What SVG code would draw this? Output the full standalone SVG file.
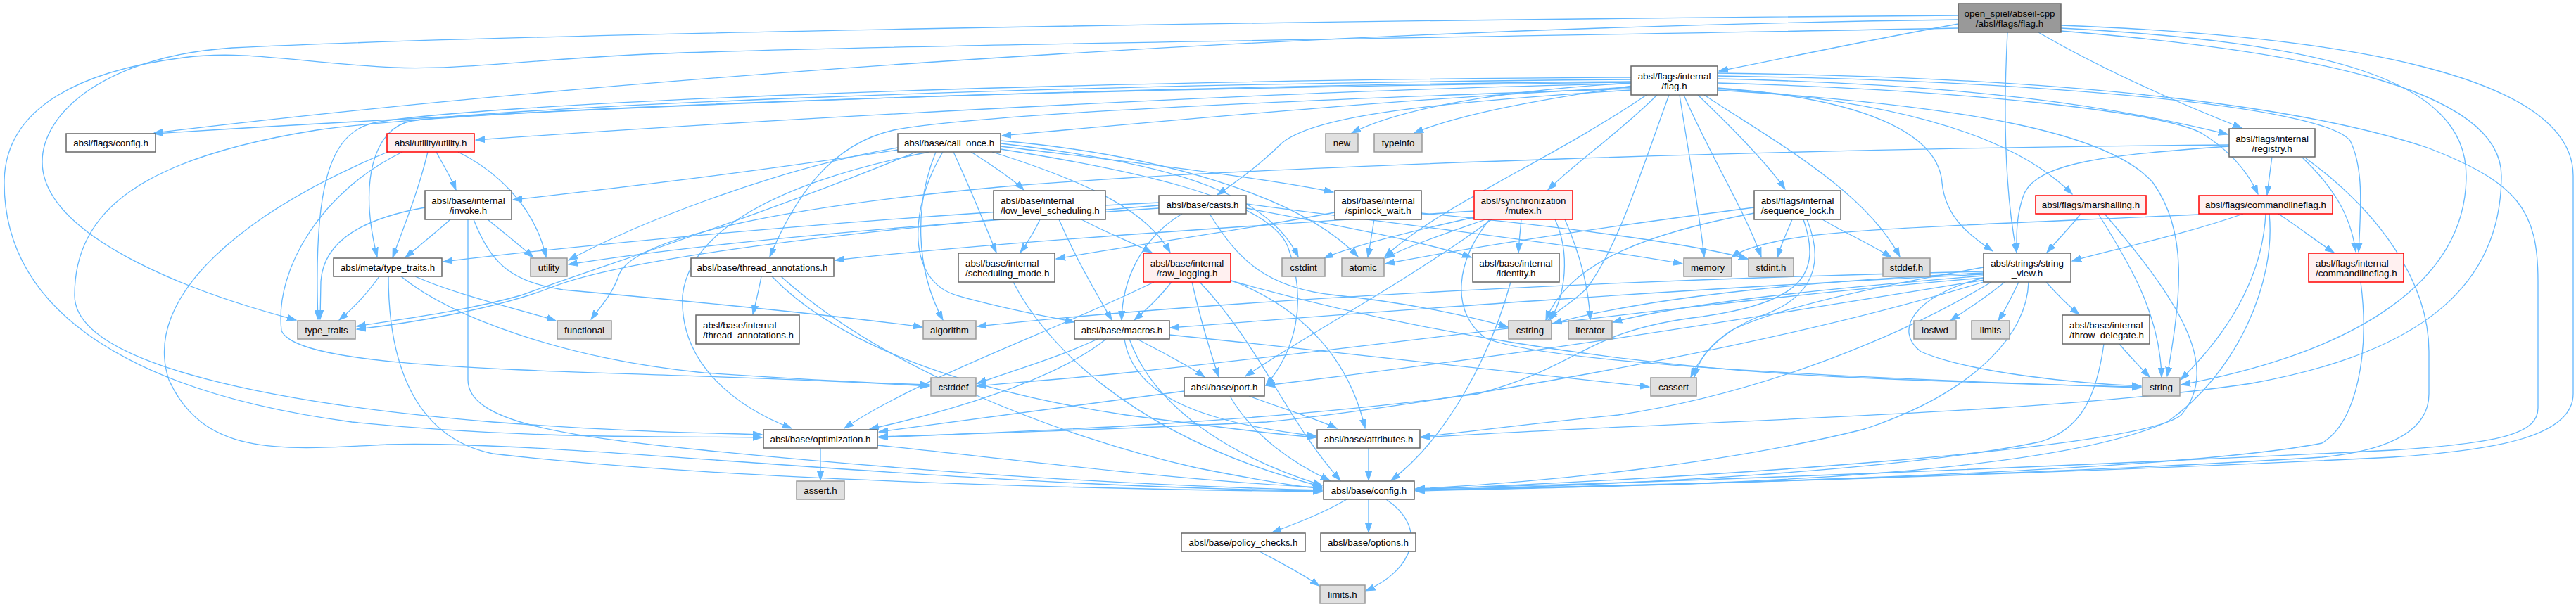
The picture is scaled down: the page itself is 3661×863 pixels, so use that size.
<svg xmlns="http://www.w3.org/2000/svg" width="3661" height="863" viewBox="0 0 3661 863">
<defs>
<style>
.e path{fill:none;stroke:#63b8ff;stroke-width:1.3;marker-end:url(#a)}
.n rect{fill:#fff;stroke:#666;stroke-width:1.5}
.n.g rect{fill:#e0e0e0;stroke:#999}
.n.r rect{fill:#fff0f0;stroke:#f00}
.n.t rect{fill:#999;stroke:#666}
text{font-family:"Liberation Sans",Arial,Helvetica,sans-serif;font-size:13.33px;fill:#000}
.c{text-anchor:middle}
</style>
<marker id="a" markerUnits="userSpaceOnUse" markerWidth="14" markerHeight="10" refX="13" refY="5" orient="auto"><path d="M0,0.5 L13,5 L0,9.5z" fill="#63b8ff" stroke="#63b8ff" stroke-width="1"/></marker>
</defs>
<rect width="3661" height="863" fill="#fff"/>
<g id="edges" class="e">
<!-- root -->
<path d="M2783,34 C2650,58 2540,82 2443,101"/>
<path d="M2897,46 C2990,100 3100,148 3186,182"/>
<path d="M2853,46 C2847,160 2849,270 2866,359"/>
<path d="M2783,28 C2000,38 1000,95 219,189"/>
<path d="M2783,22 C1700,30 700,50 330,68 C150,80 60,160 60,230 C60,330 250,410 421,455"/>
<path d="M2783,40 C2000,55 1200,65 920,77 C750,85 650,100 560,96 C430,90 350,70 260,82 C120,100 6,150 6,260 C6,450 200,560 500,600 C750,625 950,620 1083,622"/>
<path d="M2929,44 C3250,70 3555,120 3555,250 C3555,400 3450,500 3200,545 C2900,590 2400,598 2020,622"/>
<path d="M2929,40 C3300,60 3505,110 3505,250 C3505,400 3350,500 3100,547"/>
<path d="M2929,36 C3300,50 3657,100 3657,250 L3657,560 C3657,620 3550,640 3400,650 C3000,670 2400,690 2012,697"/>
<!-- internal/flag.h -->
<path d="M2318,116 C1800,120 1000,140 219,190"/>
<path d="M2318,119 C1800,128 1000,176 676,199"/>
<path d="M2318,110 C1400,115 650,150 530,175 C470,190 445,260 452,454"/>
<path d="M2318,113 C1400,120 700,155 585,172 C530,182 510,260 536,365"/>
<path d="M2318,117 C1600,125 700,150 450,185 C200,225 106,300 106,420 C106,520 400,575 700,600 C900,615 1000,615 1083,618"/>
<path d="M2318,118 C2150,128 2000,150 1921,189"/>
<path d="M2320,122 C2200,140 2080,160 2010,189"/>
<path d="M2318,124 C2000,140 1700,168 1424,193"/>
<path d="M2318,128 C2000,148 1860,168 1820,205 C1790,235 1755,260 1730,277"/>
<path d="M2318,126 C1900,140 1400,160 1270,185 C1180,205 1130,280 1094,365"/>
<path d="M2355,135 C2300,190 2240,230 2200,270"/>
<path d="M2340,135 C2200,230 2050,290 1968,365"/>
<path d="M2372,135 C2330,250 2300,350 2255,410 C2235,430 2215,440 2200,455"/>
<path d="M2387,135 C2400,220 2415,300 2422,365"/>
<path d="M2393,135 C2430,220 2480,300 2503,365"/>
<path d="M2413,135 C2460,180 2510,230 2537,269"/>
<path d="M2422,135 C2520,200 2650,270 2700,365"/>
<path d="M2441,125 C2650,140 2755,190 2760,260 C2765,310 2800,335 2832,357"/>
<path d="M2441,126 C2650,140 2850,180 2945,276"/>
<path d="M2441,118 C2800,128 3080,160 3130,190 C3170,215 3195,245 3209,276"/>
<path d="M2441,112 C2800,120 3000,150 3166,191"/>
<path d="M2441,108 C2900,115 3300,150 3340,200 C3360,240 3355,300 3352,358"/>
<path d="M2441,104 C3000,110 3300,160 3450,210 C3580,260 3607,300 3607,400 L3607,580 C3607,615 3560,630 3400,640 C3000,660 2400,685 2012,695"/>
<path d="M2441,128 C2800,150 3000,190 3060,260 C3110,330 3100,420 3080,535"/>
<!-- registry -->
<path d="M3168,206 C2600,210 1800,235 1430,265 C1100,295 900,340 880,390 C870,420 850,440 840,454"/>
<path d="M3168,208 C3000,220 2890,230 2875,280 C2865,310 2866,335 2866,358"/>
<path d="M3229,223 C3226,245 3224,260 3222,277"/>
<path d="M3272,224 C3310,260 3340,300 3348,358"/>
<path d="M3277,225 C3380,300 3452,400 3452,500 L3452,560 C3452,610 3400,640 3300,650 C2950,672 2400,690 2012,696"/>
<!-- commandlineflag -->
<path d="M3125,305 C2800,320 2620,325 2540,340 C2500,348 2475,355 2461,366"/>
<path d="M3188,304 C3100,335 3000,355 2945,371"/>
<path d="M3238,304 C3270,325 3295,345 3317,359"/>
<path d="M3220,304 C3215,400 3160,480 3099,540"/>
<path d="M3225,304 C3235,400 3180,530 3080,600 C2900,680 2400,690 2012,698"/>
<!-- marshalling -->
<path d="M2957,304 C2945,320 2925,340 2909,359"/>
<path d="M2982,304 C3030,380 3070,450 3072,536"/>
<path d="M2991,304 C3090,420 3160,520 3100,590 C3040,640 2400,680 2012,696"/>
<!-- internal commandlineflag -->
<path d="M3355,401 C3368,500 3350,600 3300,630 C3100,670 2400,690 2012,697"/>
<!-- utility.h -->
<path d="M620,216 C630,235 640,250 648,270"/>
<path d="M608,216 C595,270 575,320 558,366"/>
<path d="M651,216 C700,240 760,290 776,366"/>
<path d="M572,216 C460,270 390,380 400,470 C420,520 700,525 1000,535 C1150,540 1250,545 1321,549"/>
<path d="M551,216 C350,300 200,420 240,540 C290,650 400,640 550,632 C800,625 1300,690 1879,698"/>
<!-- invoke -->
<path d="M640,312 C620,330 595,350 576,366"/>
<path d="M693,312 C715,330 740,350 758,366"/>
<path d="M604,295 C520,310 460,340 456,400 L455,454"/>
<path d="M665,312 L665,540 C665,600 800,620 1000,640 C1300,670 1600,690 1879,697"/>
<path d="M673,312 C700,380 730,400 800,412 C1000,430 1200,450 1311,465"/>
<!-- meta/type_traits -->
<path d="M539,393 C520,420 500,440 482,455"/>
<path d="M590,393 C650,420 740,440 790,456"/>
<path d="M570,393 C640,450 800,510 1000,530 C1150,540 1250,545 1321,547"/>
<path d="M552,393 C552,500 580,620 700,645 C1000,680 1500,695 1879,699"/>
<!-- call_once -->
<path d="M1276,210 C1100,240 900,320 808,370"/>
<path d="M1276,213 C1100,240 900,265 729,284"/>
<path d="M1302,216 C1100,300 850,380 740,420 C650,445 560,455 507,464"/>
<path d="M1330,216 C1300,290 1300,380 1340,455"/>
<path d="M1340,216 C1290,300 1290,400 1360,420 C1430,440 1490,450 1527,458"/>
<path d="M1320,216 C1100,260 980,330 970,420 C965,520 1050,580 1125,609"/>
<path d="M1422,212 C1600,240 1800,280 1830,350 C1860,430 1840,500 1799,548"/>
<path d="M1422,200 C1650,220 1850,280 1930,365"/>
<path d="M1422,204 C1650,230 1800,270 1845,365"/>
<path d="M1422,208 C1600,230 1780,250 1895,273"/>
<path d="M1380,216 C1410,235 1440,255 1455,270"/>
<path d="M1410,216 C1550,260 1630,300 1663,359"/>
<path d="M1355,216 C1380,270 1400,320 1416,359"/>
<!-- low_level_scheduling -->
<path d="M1478,312 C1470,330 1460,345 1450,359"/>
<path d="M1537,312 C1570,330 1610,345 1637,359"/>
<path d="M1505,312 C1530,370 1560,420 1580,455"/>
<!-- casts -->
<path d="M1680,304 C1620,340 1595,400 1594,455"/>
<path d="M1719,304 C1760,370 1800,410 1900,420 C2000,430 2090,450 2143,465"/>
<path d="M1771,290 C2000,320 2250,350 2391,375"/>
<path d="M1771,296 C1900,320 2030,345 2091,366"/>
<path d="M1647,292 C1300,320 900,360 780,410 C700,440 580,460 507,468"/>
<path d="M1647,288 C1300,305 900,340 630,372"/>
<path d="M1647,296 C1300,320 1000,345 808,376"/>
<!-- thread_annotations -->
<path d="M1082,393 C1078,415 1074,430 1070,447"/>
<path d="M1097,393 C1200,500 1400,560 1600,590 C1750,610 1820,618 1870,622"/>
<path d="M1110,393 C1250,520 1500,620 1700,665 C1800,685 1850,692 1879,695"/>
<!-- scheduling_mode -->
<path d="M1440,401 C1480,480 1600,620 1879,692"/>
<!-- raw_logging -->
<path d="M1665,401 C1650,420 1630,440 1612,455"/>
<path d="M1694,401 C1705,450 1720,500 1732,536"/>
<path d="M1640,401 C1500,470 1300,540 1200,609"/>
<path d="M1705,401 C1790,490 1830,600 1905,683"/>
<path d="M1748,398 C1860,440 1920,520 1940,609"/>
<path d="M1749,399 C2000,470 2300,520 2600,535 C2800,545 2950,548 3043,550"/>
<!-- spinlock_wait -->
<path d="M1953,312 C1950,330 1947,350 1944,366"/>
<path d="M1897,302 C1750,330 1600,350 1501,368"/>
<path d="M2020,303 C2200,320 2400,345 2484,368"/>
<!-- mutex -->
<path d="M2095,300 C1800,320 1400,345 1187,370"/>
<path d="M2099,308 C2000,330 1920,350 1882,367"/>
<path d="M2111,312 C2060,330 2000,350 1969,367"/>
<path d="M2120,312 C2000,400 1850,480 1770,535"/>
<path d="M2162,312 C2161,325 2159,340 2158,359"/>
<path d="M2210,312 C2232,360 2225,420 2203,455"/>
<path d="M2224,312 C2245,360 2258,410 2260,455"/>
<path d="M2117,312 C2070,370 2060,440 2110,480 C2200,520 2700,540 3043,551"/>
<!-- identity -->
<path d="M2147,401 C2120,500 2060,620 1977,683"/>
<!-- sequence_lock -->
<path d="M2493,295 C2300,320 2100,350 1969,375"/>
<path d="M2493,303 C2350,330 2230,370 2197,455"/>
<path d="M2547,312 C2540,330 2532,345 2526,366"/>
<path d="M2590,312 C2620,330 2660,348 2688,366"/>
<path d="M2568,312 C2600,390 2560,430 2500,450 C2450,470 2420,500 2403,536"/>
<path d="M2563,312 C2590,390 2560,430 2420,450 C2250,470 2250,520 2100,560 C1800,600 1500,612 1249,622"/>
<!-- string_view -->
<path d="M2819,395 C2720,420 2690,470 2730,500 C2800,530 2950,545 3043,549"/>
<path d="M2908,401 C2925,420 2940,435 2955,447"/>
<path d="M2849,401 C2820,425 2795,440 2772,456"/>
<path d="M2869,401 C2860,420 2850,440 2840,456"/>
<path d="M2819,380 C2650,410 2520,440 2460,470 C2430,490 2415,510 2408,536"/>
<path d="M2819,392 C2600,410 2400,430 2292,458"/>
<path d="M2819,388 C2600,398 2350,420 2207,460"/>
<path d="M2819,386 C2400,395 1800,420 1389,464"/>
<path d="M2819,390 C2400,410 2000,440 1663,466"/>
<path d="M2819,395 C2400,430 1900,500 1600,530 C1500,540 1430,545 1388,549"/>
<path d="M2820,398 C2500,450 2200,500 1799,548"/>
<path d="M2822,400 C2500,500 2000,580 1800,600 C1600,610 1400,616 1249,621"/>
<path d="M2830,401 C2700,480 2500,560 2300,590 C2150,605 2080,615 2020,621"/>
<path d="M2883,401 C2880,480 2800,560 2650,610 C2450,660 2200,685 2012,695"/>
<!-- throw_delegate -->
<path d="M3012,489 C3025,505 3040,520 3055,536"/>
<path d="M2990,489 C2980,560 2960,610 2900,628 C2700,670 2300,690 2012,697"/>
<!-- macros -->
<path d="M1560,482 C1500,510 1430,530 1389,545"/>
<path d="M1572,482 C1500,540 1350,585 1236,610"/>
<path d="M1616,482 C1650,500 1690,520 1712,536"/>
<path d="M1662,476 C1900,500 2150,530 2344,550"/>
<path d="M1598,482 C1610,560 1700,600 1870,620"/>
<path d="M1605,482 C1640,580 1750,650 1879,690"/>
<!-- port -->
<path d="M1683,556 C1550,575 1400,595 1249,614"/>
<path d="M1775,563 C1820,580 1870,595 1900,609"/>
<path d="M1748,563 C1780,620 1840,660 1890,683"/>
<!-- optimization -->
<path d="M1166,637 L1166,683"/>
<path d="M1247,633 C1500,660 1700,685 1879,693"/>
<!-- attributes / config / policy -->
<path d="M1945,637 L1945,683"/>
<path d="M1914,710 C1880,730 1840,745 1808,757"/>
<path d="M1945,710 L1945,757"/>
<path d="M1970,710 C2030,750 2010,810 1941,840"/>
<path d="M1790,784 C1820,800 1850,815 1875,833"/>
</g>
<g id="n_root" class="n t"><rect x="2783" y="5" width="146" height="41"/><text class="c" x="2856" y="24">open_spiel/abseil-cpp</text><text class="c" x="2856" y="38">/absl/flags/flag.h</text></g>
<g id="n_iflag" class="n"><rect x="2318" y="94" width="123" height="41"/><text class="c" x="2379.5" y="113">absl/flags/internal</text><text class="c" x="2379.5" y="127">/flag.h</text></g>
<g id="n_registry" class="n"><rect x="3168" y="183" width="122" height="40"/><text class="c" x="3229" y="202">absl/flags/internal</text><text class="c" x="3229" y="216">/registry.h</text></g>
<g id="n_fconfig" class="n"><rect x="94" y="190" width="127" height="26"/><text class="c" x="157.5" y="208">absl/flags/config.h</text></g>
<g id="n_utility_h" class="n r"><rect x="550" y="190" width="124" height="26"/><text class="c" x="612" y="208">absl/utility/utility.h</text></g>
<g id="n_call_once" class="n"><rect x="1276" y="190" width="146" height="26"/><text class="c" x="1349" y="208">absl/base/call_once.h</text></g>
<g id="n_new" class="n g"><rect x="1884" y="190" width="46" height="26"/><text class="c" x="1907" y="208">new</text></g>
<g id="n_typeinfo" class="n g"><rect x="1953" y="190" width="68" height="26"/><text class="c" x="1987" y="208">typeinfo</text></g>
<g id="n_invoke" class="n"><rect x="604" y="271" width="123" height="41"/><text class="c" x="665.5" y="290">absl/base/internal</text><text class="c" x="665.5" y="304">/invoke.h</text></g>
<g id="n_lls" class="n"><rect x="1412" y="271" width="159" height="41"/><text x="1422" y="290">absl/base/internal</text><text x="1422" y="304">/low_level_scheduling.h</text></g>
<g id="n_casts" class="n"><rect x="1647" y="278" width="124" height="26"/><text class="c" x="1709" y="296">absl/base/casts.h</text></g>
<g id="n_spinlock" class="n"><rect x="1897" y="271" width="123" height="41"/><text class="c" x="1958.5" y="290">absl/base/internal</text><text class="c" x="1958.5" y="304">/spinlock_wait.h</text></g>
<g id="n_mutex" class="n r"><rect x="2095" y="271" width="140" height="41"/><text class="c" x="2165" y="290">absl/synchronization</text><text class="c" x="2165" y="304">/mutex.h</text></g>
<g id="n_seqlock" class="n"><rect x="2493" y="271" width="123" height="41"/><text class="c" x="2554.5" y="290">absl/flags/internal</text><text class="c" x="2554.5" y="304">/sequence_lock.h</text></g>
<g id="n_marshalling" class="n r"><rect x="2893" y="278" width="157" height="26"/><text class="c" x="2971.5" y="296">absl/flags/marshalling.h</text></g>
<g id="n_cmdflag" class="n r"><rect x="3125" y="278" width="190" height="26"/><text class="c" x="3220" y="296">absl/flags/commandlineflag.h</text></g>
<g id="n_meta_tt" class="n"><rect x="474" y="367" width="154" height="26"/><text class="c" x="551" y="385">absl/meta/type_traits.h</text></g>
<g id="n_utility" class="n g"><rect x="754" y="367" width="52" height="26"/><text class="c" x="780" y="385">utility</text></g>
<g id="n_thread_ann" class="n"><rect x="982" y="367" width="203" height="26"/><text class="c" x="1083.5" y="385">absl/base/thread_annotations.h</text></g>
<g id="n_sched_mode" class="n"><rect x="1362" y="360" width="137" height="41"/><text x="1372" y="379">absl/base/internal</text><text x="1372" y="393">/scheduling_mode.h</text></g>
<g id="n_raw_logging" class="n r"><rect x="1625" y="360" width="124" height="41"/><text class="c" x="1687" y="379">absl/base/internal</text><text class="c" x="1687" y="393">/raw_logging.h</text></g>
<g id="n_cstdint" class="n g"><rect x="1822" y="367" width="61" height="26"/><text class="c" x="1852.5" y="385">cstdint</text></g>
<g id="n_atomic" class="n g"><rect x="1907" y="367" width="60" height="26"/><text class="c" x="1937" y="385">atomic</text></g>
<g id="n_identity" class="n"><rect x="2093" y="360" width="123" height="41"/><text class="c" x="2154.5" y="379">absl/base/internal</text><text class="c" x="2154.5" y="393">/identity.h</text></g>
<g id="n_memory" class="n g"><rect x="2393" y="367" width="68" height="26"/><text class="c" x="2427" y="385">memory</text></g>
<g id="n_stdint" class="n g"><rect x="2485" y="367" width="64" height="26"/><text class="c" x="2517" y="385">stdint.h</text></g>
<g id="n_stddef" class="n g"><rect x="2676" y="367" width="67" height="26"/><text class="c" x="2709.5" y="385">stddef.h</text></g>
<g id="n_string_view" class="n"><rect x="2819" y="360" width="124" height="41"/><text class="c" x="2881" y="379">absl/strings/string</text><text class="c" x="2881" y="393">_view.h</text></g>
<g id="n_icmdflag" class="n r"><rect x="3281" y="360" width="135" height="41"/><text x="3291" y="379">absl/flags/internal</text><text x="3291" y="393">/commandlineflag.h</text></g>
<g id="n_type_traits" class="n g"><rect x="423" y="456" width="82" height="26"/><text class="c" x="464" y="474">type_traits</text></g>
<g id="n_functional" class="n g"><rect x="792" y="456" width="77" height="26"/><text class="c" x="830.5" y="474">functional</text></g>
<g id="n_ithread_ann" class="n"><rect x="989" y="448" width="147" height="41"/><text x="999" y="467">absl/base/internal</text><text x="999" y="481">/thread_annotations.h</text></g>
<g id="n_algorithm" class="n g"><rect x="1312" y="456" width="75" height="26"/><text class="c" x="1349.5" y="474">algorithm</text></g>
<g id="n_macros" class="n"><rect x="1527" y="456" width="135" height="26"/><text class="c" x="1594.5" y="474">absl/base/macros.h</text></g>
<g id="n_cstring" class="n g"><rect x="2144" y="456" width="61" height="26"/><text class="c" x="2174.5" y="474">cstring</text></g>
<g id="n_iterator" class="n g"><rect x="2229" y="456" width="62" height="26"/><text class="c" x="2260" y="474">iterator</text></g>
<g id="n_iosfwd" class="n g"><rect x="2720" y="456" width="60" height="26"/><text class="c" x="2750" y="474">iosfwd</text></g>
<g id="n_limits" class="n g"><rect x="2802" y="456" width="54" height="26"/><text class="c" x="2829" y="474">limits</text></g>
<g id="n_throw" class="n"><rect x="2931" y="448" width="124" height="41"/><text x="2941" y="467">absl/base/internal</text><text x="2941" y="481">/throw_delegate.h</text></g>
<g id="n_cstddef" class="n g"><rect x="1323" y="537" width="64" height="26"/><text class="c" x="1355" y="555">cstddef</text></g>
<g id="n_port" class="n"><rect x="1683" y="537" width="114" height="26"/><text class="c" x="1740" y="555">absl/base/port.h</text></g>
<g id="n_cassert" class="n g"><rect x="2346" y="537" width="65" height="26"/><text class="c" x="2378.5" y="555">cassert</text></g>
<g id="n_string" class="n g"><rect x="3045" y="537" width="53" height="26"/><text class="c" x="3071.5" y="555">string</text></g>
<g id="n_optimization" class="n"><rect x="1085" y="611" width="162" height="26"/><text class="c" x="1166" y="629">absl/base/optimization.h</text></g>
<g id="n_attributes" class="n"><rect x="1872" y="611" width="146" height="26"/><text class="c" x="1945" y="629">absl/base/attributes.h</text></g>
<g id="n_assert" class="n g"><rect x="1132" y="684" width="68" height="26"/><text class="c" x="1166" y="702">assert.h</text></g>
<g id="n_config" class="n"><rect x="1881" y="684" width="129" height="26"/><text class="c" x="1945.5" y="702">absl/base/config.h</text></g>
<g id="n_policy" class="n"><rect x="1679" y="758" width="176" height="26"/><text class="c" x="1767" y="776">absl/base/policy_checks.h</text></g>
<g id="n_options" class="n"><rect x="1877" y="758" width="135" height="26"/><text class="c" x="1944.5" y="776">absl/base/options.h</text></g>
<g id="n_limits_h" class="n g"><rect x="1876" y="832" width="64" height="26"/><text class="c" x="1908" y="850">limits.h</text></g>
</svg>
